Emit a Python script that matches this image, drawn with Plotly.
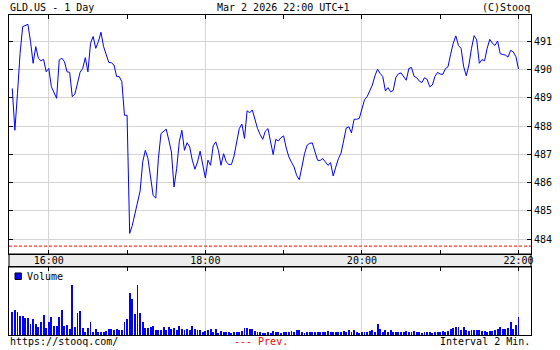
import pandas as pd
import plotly.graph_objects as go

# ---- data -------------------------------------------------------------
symbol_title = "GLD.US - 1 Day"
date_title = "Mar 2 2026 22:00 UTC+1"
start_time = "2026-03-02 15:32"
end_time = "2026-03-02 22:00"
interval = "2min"

price = [
    489.33, 487.85, 489.15, 490.57, 491.52, 491.56, 491.60, 490.99, 490.22, 490.81,
    490.40, 490.31, 490.36, 489.92, 490.04, 489.39, 489.15, 488.98, 490.34, 490.40,
    490.28, 489.92, 489.90, 489.04, 489.13, 489.57, 489.90, 490.04, 490.42, 489.92,
    490.93, 491.17, 490.75, 490.99, 491.32, 490.81, 490.51, 490.25, 490.24, 490.16,
    489.75, 489.75, 489.57, 488.38, 488.38, 484.20, 484.48, 484.89, 485.25, 485.70,
    486.73, 487.14, 486.85, 486.20, 485.54, 485.45, 486.85, 487.73, 487.82, 487.89,
    487.50, 487.08, 485.84, 486.49, 487.44, 487.85, 487.14, 487.41, 487.26, 486.79,
    486.47, 486.73, 487.11, 486.67, 486.16, 486.79, 486.61, 487.30, 487.44, 487.14,
    486.61, 487.02, 486.73, 486.64, 486.64, 486.94, 487.46, 487.91, 488.07, 487.56,
    488.54, 488.47, 488.57, 488.24, 487.91, 487.70, 487.53, 487.82, 487.91, 487.44,
    486.99, 487.53, 487.47, 487.59, 487.65, 487.22, 486.91, 486.72, 486.55, 486.25,
    486.10, 486.55, 487.02, 487.32, 487.39, 487.40, 487.11, 486.79, 486.78, 486.85,
    486.73, 486.61, 486.70, 486.23, 486.55, 486.85, 487.04, 487.53, 487.93, 487.97,
    487.76, 488.24, 488.24, 488.27, 488.56, 488.93, 489.04, 489.24, 489.45, 489.78,
    490.01, 489.86, 489.75, 489.24, 489.36, 489.21, 489.26, 489.72, 489.85, 489.88,
    489.75, 489.62, 490.04, 490.07, 489.76, 489.71, 489.59, 489.54, 489.71, 489.65,
    489.39, 489.45, 489.76, 489.90, 489.84, 489.83, 490.03, 490.10, 490.54, 490.93,
    491.19, 490.85, 490.75, 490.10, 489.78, 490.16, 490.75, 491.20, 491.05, 490.22,
    490.35, 490.31, 490.75, 491.07, 490.93, 490.85, 491.01, 490.56, 490.53, 490.51,
    490.44, 490.68, 490.62, 490.46, 490.02,
]

volume = [
    67, 75, 67, 57, 57, 49, 49, 32, 47, 32,
    25, 39, 60, 22, 39, 52, 27, 27, 52, 75,
    27, 30, 17, 147, 25, 64, 72, 22, 10, 22,
    37, 10, 17, 9, 10, 10, 12, 19, 17, 14,
    17, 14, 14, 37, 47, 124, 105, 62, 147, 65,
    39, 22, 22, 24, 27, 14, 14, 16, 24, 14,
    24, 17, 22, 14, 27, 17, 14, 17, 15, 27,
    17, 14, 15, 10, 12, 14, 19, 10, 17, 7,
    12, 10, 10, 9, 7, 9, 10, 9, 12, 22,
    22, 17, 17, 12, 10, 10, 7, 7, 10, 7,
    12, 9, 9, 7, 9, 9, 10, 12, 9, 14,
    15, 10, 7, 9, 9, 9, 9, 10, 9, 10,
    9, 12, 9, 9, 10, 9, 10, 12, 9, 14,
    10, 14, 10, 7, 9, 10, 10, 12, 15, 10,
    34, 17, 10, 14, 10, 14, 9, 10, 9, 10,
    10, 12, 9, 9, 12, 9, 9, 7, 9, 10,
    9, 7, 9, 10, 9, 12, 10, 12, 17, 22,
    25, 24, 14, 24, 15, 12, 15, 15, 15, 14,
    12, 12, 10, 12, 12, 14, 17, 24, 17, 19,
    22, 37, 17, 30, 52,
]

prev_close = 483.75
price_ticks = [484, 485, 486, 487, 488, 489, 490, 491]
x_range = ["2026-03-02 15:29:30", "2026-03-02 22:09:36"]
y_range = [483.47, 491.93]
vol_range = [0, 201]

times = pd.date_range(start_time, end_time, freq=interval)

# ---- styling ------------------------------------------------------------
FONT = "DejaVu Sans Mono"
GRID = "#d4d4d4"
BLUE = "#0000ff"
MAIN_DOM = [0.2531, 1.0]
VOL_DOM = [0.0, 0.2125]

fig = go.Figure()
fig.add_trace(go.Scatter(
    x=times, y=price, mode="lines",
    line=dict(color=BLUE, width=1),
    xaxis="x", yaxis="y", showlegend=False, hoverinfo="skip",
))
fig.add_trace(go.Bar(
    x=times, y=volume, width=42000,
    marker=dict(color=BLUE, line=dict(width=0)),
    xaxis="x2", yaxis="y2", showlegend=False, hoverinfo="skip",
))

xcommon = dict(
    type="date", range=x_range, dtick=7200000, tick0="2026-03-02 16:00",
    showgrid=True, gridcolor=GRID, gridwidth=1,
    ticks="inside", ticklen=4, tickcolor="black",
    minor=dict(dtick=3600000, tick0="2026-03-02 16:00", ticks="inside",
               ticklen=4, tickcolor="black", showgrid=False),
    showline=True, linecolor="black", linewidth=1, zeroline=False,
    tickfont=dict(family=FONT, size=10, color="black"),
)

fig.update_layout(
    width=560, height=350,
    margin=dict(l=8, r=23, t=15, b=15),
    paper_bgcolor="white", plot_bgcolor="white",
    font=dict(family=FONT, size=10, color="black"),
    xaxis=dict(xcommon, domain=[0, 1], anchor="y", tickformat="%H:%M",
               mirror="ticks", showticklabels=True, ticklabelstandoff=-3),
    yaxis=dict(domain=MAIN_DOM, anchor="x", side="right", range=y_range,
               tickvals=price_ticks, showgrid=True, gridcolor=GRID,
               ticks="inside", ticklen=4, tickcolor="black",
               showline=True, linecolor="black", linewidth=1, mirror="ticks",
               zeroline=False, tickfont=dict(family=FONT, size=10, color="black")),
    xaxis2=dict(xcommon, domain=[0, 1], anchor="y2", side="top",
                showticklabels=False, mirror=True),
    yaxis2=dict(domain=VOL_DOM, anchor="x2", range=vol_range,
                showgrid=False, showticklabels=False, ticks="",
                showline=True, linecolor="black", linewidth=1, mirror=True,
                zeroline=False),
    bargap=0,
    shapes=[
        dict(type="rect", xref="paper", yref="paper", x0=0, x1=1,
             y0=VOL_DOM[1], y1=MAIN_DOM[0], fillcolor="#ececec",
             line=dict(color="black", width=1), layer="below"),
        dict(type="line", xref="x domain", yref="y", x0=0, x1=1,
             y0=prev_close, y1=prev_close,
             line=dict(color="#ff0000", width=1, dash="3px,2px")),
        dict(type="rect", xref="paper", yref="paper",
             x0=0.0115, x1=0.0236, y0=0.1734, y1=0.1938,
             fillcolor=BLUE, line=dict(color="black", width=1)),
    ],
    annotations=[
        dict(text=symbol_title, xref="paper", yref="paper", x=0, y=1,
             xanchor="left", yanchor="bottom", showarrow=False,
             borderpad=0, yshift=1),
        dict(text=date_title, xref="paper", yref="paper", x=0.5255, y=1,
             xanchor="center", yanchor="bottom", showarrow=False, borderpad=0,
             yshift=1),
        dict(text="(C)Stooq", xref="paper", yref="paper", x=1, y=1,
             xanchor="right", yanchor="bottom", showarrow=False, borderpad=0,
             yshift=1),
        dict(text="Volume", xref="paper", yref="paper", x=0.032, y=0.184,
             xanchor="left", yanchor="middle", showarrow=False, borderpad=0),
        dict(text="https://stooq.com/", xref="paper", yref="paper", x=0, y=0,
             xanchor="left", yanchor="top", showarrow=False, borderpad=0),
        dict(text="--- Prev.", xref="paper", yref="paper", x=0.429, y=0,
             xanchor="left", yanchor="top", showarrow=False, borderpad=0,
             font=dict(color="#ff0000")),
        dict(text="Interval 2 Min.", xref="paper", yref="paper", x=1, y=0,
             xanchor="right", yanchor="top", showarrow=False, borderpad=0),
    ],
)

fig.write_html("out.html")
